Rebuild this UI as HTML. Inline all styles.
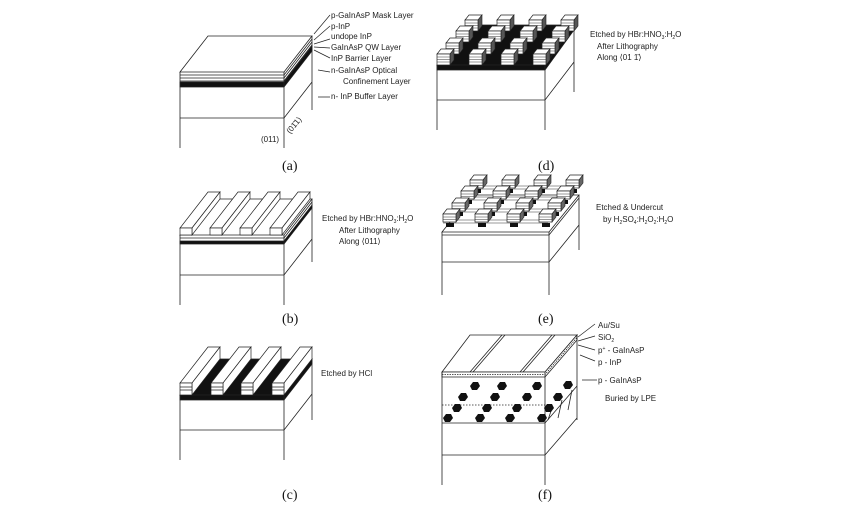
<!DOCTYPE html>
<html><head><meta charset="utf-8"><style>
html,body{margin:0;padding:0;background:#fff}
svg{display:block}
text{font-family:"Liberation Sans",sans-serif;font-size:8px;fill:#222}
.cap{font-family:"Liberation Serif",serif;font-size:14px;fill:#111}
</style></head><body>
<svg width="862" height="507" viewBox="0 0 862 507" xmlns="http://www.w3.org/2000/svg">
<defs>
<g id="cube">
 <polygon points="0,0 13,0 17,-5 4,-5" fill="#fff" stroke="#222" stroke-width="0.7"/>
 <polygon points="13,0 17,-5 17,6 13,11" fill="#555" stroke="#222" stroke-width="0.6"/>
 <rect x="0" y="0" width="13" height="11" fill="#fff" stroke="#222" stroke-width="0.7"/>
 <path d="M0 3H13M0 5.5H13M0 8H13" stroke="#333" stroke-width="0.6"/>
</g>
<g id="cubeE">
 <rect x="3" y="9" width="8" height="4" fill="#111"/>
 <polygon points="0,0 13,0 17,-5 4,-5" fill="#fff" stroke="#222" stroke-width="0.7"/>
 <polygon points="13,0 17,-5 17,3 13,8" fill="#666" stroke="#222" stroke-width="0.6"/>
 <rect x="0" y="0" width="13" height="8" fill="#fff" stroke="#222" stroke-width="0.7"/>
 <path d="M0 3H13M0 5.5H13" stroke="#333" stroke-width="0.6"/>
</g>
<polygon id="hex" points="-5,0 -2,-4 3,-4 5,0 2,4 -3,4" fill="#111"/>
</defs>
<g stroke="#222" stroke-width="0.8" fill="none">
<!-- (a) -->
<polygon points="180,72 284,72 312,36 208,36" fill="#fff"/>
<path d="M180,75H284L312,39M180,78H284L312,42M180,81H284L312,45"/>
<polygon points="180,82 284,82 312,46 312,51 284,87 180,87" fill="#111"/>
<path d="M180,72V148M284,72V148M312,36V110M180,118H284L312,82"/>
<!-- (b) -->
<polygon points="180,235 284,235 312,199 208,199" fill="#fff"/>
<path d="M180,238H284L312,202"/>
<polygon points="180,241 284,241 312,205 312,208 284,244 180,244" fill="#111"/>
<path d="M180,235V305M284,235V305M312,199V262M180,275H284L312,239"/>
<!-- (c) -->
<polygon points="180,395 284,395 312,359 208,359" fill="#111"/>
<polygon points="180,395 284,395 312,359 312,364 284,400 180,400" fill="#111"/>
<path d="M180,395V460M284,395V460M312,359V420M180,430H284L312,394"/>
<!-- (d) -->
<polygon points="437,65 545,65 574,25 466,25" fill="#111"/>
<polygon points="437,65 545,65 574,25 574,30 545,70 437,70" fill="#111"/>
<path d="M437,65V130M545,65V130M574,25V92M437,100H545L574,62"/>
<!-- (e) -->
<polygon points="442,232 549,232 579,195 472,195" fill="#fff"/>
<path d="M442,235H549L579,198"/>
<path d="M442,232V295M549,232V295M579,195V250M442,262H549L579,225"/>
<!-- (f) -->
<polygon points="442,372 545,372 577,335 470,335" fill="#fff"/>
<path d="M470,372L502,335M473,372L505,335M520,372L552,335M523,372L555,335"/>
<polygon points="442,372 545,372 577,335 577,340 545,377 442,377" fill="#fff"/>
<path d="M442,374.5H545L577,337.5" stroke-dasharray="1.5,1"/>
<path d="M442,372V485M545,372V485M577,335V420M442,423H545L577,386M442,455H545M545,455L577,418"/>
<path d="M442,405H545" stroke-dasharray="1.5,1.5"/>
<path d="M548,420L552,408M558,418L562,400M568,410L572,390" />
</g>
<!-- (b) stripes -->
<g stroke="#222" stroke-width="0.7" fill="#fff">
<g id="sb"><polygon points="180,228 192,228 220,192 208,192"/><polygon points="192,228 220,192 220,199 192,235"/><rect x="180" y="228" width="12" height="7"/></g>
<use href="#sb" x="30"/><use href="#sb" x="60"/><use href="#sb" x="90"/>
<g id="sc"><polygon points="180,383 192,383 220,347 208,347"/><polygon points="192,383 220,347 220,359 192,395"/><rect x="180" y="383" width="12" height="12"/><path d="M180,387H192M180,390H192" fill="none"/></g>
<use href="#sc" x="31"/><use href="#sc" x="61"/><use href="#sc" x="92"/>
</g>
<!-- (d) cubes -->
<use href="#cube" x="465" y="20"/><use href="#cube" x="497" y="20"/><use href="#cube" x="529" y="20"/><use href="#cube" x="561" y="20"/>
<use href="#cube" x="456" y="31"/><use href="#cube" x="488" y="31"/><use href="#cube" x="520" y="31"/><use href="#cube" x="552" y="31"/>
<use href="#cube" x="446" y="43"/><use href="#cube" x="478" y="43"/><use href="#cube" x="510" y="43"/><use href="#cube" x="542" y="43"/>
<use href="#cube" x="437" y="54"/><use href="#cube" x="469" y="54"/><use href="#cube" x="501" y="54"/><use href="#cube" x="533" y="54"/>
<!-- (e) grid + cubes -->
<g stroke="#333" stroke-width="0.6">
<path d="M470,186H575M470,189H575M461,197H566M461,200H566M452,209H557M452,212H557M443,220H548M443,223H548"/>
<path d="M476,185L449,222M479,185L452,222M508,185L481,222M511,185L484,222M540,185L513,222M543,185L516,222M572,185L545,222M575,185L548,222"/>
</g>
<use href="#cubeE" x="470" y="180"/><use href="#cubeE" x="502" y="180"/><use href="#cubeE" x="534" y="180"/><use href="#cubeE" x="566" y="180"/>
<use href="#cubeE" x="461" y="191"/><use href="#cubeE" x="493" y="191"/><use href="#cubeE" x="525" y="191"/><use href="#cubeE" x="557" y="191"/>
<use href="#cubeE" x="452" y="203"/><use href="#cubeE" x="484" y="203"/><use href="#cubeE" x="516" y="203"/><use href="#cubeE" x="548" y="203"/>
<use href="#cubeE" x="443" y="214"/><use href="#cubeE" x="475" y="214"/><use href="#cubeE" x="507" y="214"/><use href="#cubeE" x="539" y="214"/>
<!-- (f) dots -->
<use href="#hex" x="475" y="386"/><use href="#hex" x="502" y="386"/><use href="#hex" x="537" y="386"/>
<use href="#hex" x="463" y="397"/><use href="#hex" x="495" y="397"/><use href="#hex" x="527" y="397"/>
<use href="#hex" x="457" y="408"/><use href="#hex" x="487" y="408"/><use href="#hex" x="517" y="408"/>
<use href="#hex" x="448" y="418"/><use href="#hex" x="480" y="418"/><use href="#hex" x="510" y="418"/><use href="#hex" x="542" y="418"/>
<use href="#hex" x="568" y="385"/><use href="#hex" x="558" y="397"/><use href="#hex" x="549" y="408"/>
<!-- leaders -->
<g stroke="#222" stroke-width="0.7">
<path d="M314,34L330,15M314,40L330,26M314,44L330,39M314,47L330,48M314,50L330,58M318,70L330,72M318,97H330"/>
<path d="M578,337L595,324M578,341L595,336M578,345L595,350M580,355L595,361M582,380H597"/>
</g>
<text x="331" y="18">p-GaInAsP  Mask Layer</text>
<text x="331" y="29">p-InP</text>
<text x="331" y="39">undope InP</text>
<text x="331" y="50">GaInAsP  QW Layer</text>
<text x="331" y="61">InP  Barrier  Layer</text>
<text x="331" y="73">n-GaInAsP  Optical</text>
<text x="343" y="84">Confinement  Layer</text>
<text x="331" y="99">n- InP Buffer Layer</text>
<text x="261" y="142" font-size="7">(011)</text>
<text x="290" y="134" font-size="7" transform="rotate(-50 290 134)">(01̄1)</text>
<text x="322" y="221">Etched by  HBr:HNO<tspan font-size="5" dy="2">3</tspan><tspan dy="-2">:H</tspan><tspan font-size="5" dy="2">2</tspan><tspan dy="-2">O</tspan></text>
<text x="339" y="233">After  Lithography</text>
<text x="339" y="244">Along  ⟨011⟩</text>
<text x="321" y="376">Etched  by  HCl</text>
<text x="590" y="37">Etched by  HBr:HNO<tspan font-size="5" dy="2">3</tspan><tspan dy="-2">:H</tspan><tspan font-size="5" dy="2">2</tspan><tspan dy="-2">O</tspan></text>
<text x="597" y="49">After  Lithography</text>
<text x="597" y="60">Along  ⟨01 1̄⟩</text>
<text x="596" y="210">Etched &amp; Undercut</text>
<text x="603" y="222">by  H<tspan font-size="5" dy="2">2</tspan><tspan dy="-2">SO</tspan><tspan font-size="5" dy="2">4</tspan><tspan dy="-2">:H</tspan><tspan font-size="5" dy="2">2</tspan><tspan dy="-2">O</tspan><tspan font-size="5" dy="2">2</tspan><tspan dy="-2">:H</tspan><tspan font-size="5" dy="2">2</tspan><tspan dy="-2">O</tspan></text>
<text x="598" y="328">Au/Su</text>
<text x="598" y="340">SiO<tspan font-size="5" dy="2">2</tspan></text>
<text x="598" y="353">p<tspan font-size="5" dy="-3">+</tspan><tspan dy="3"> - GaInAsP</tspan></text>
<text x="598" y="365">p - InP</text>
<text x="598" y="383">p - GaInAsP</text>
<text x="605" y="401">Buried  by  LPE</text>
<text class="cap" x="282" y="170">(a)</text>
<text class="cap" x="282" y="323">(b)</text>
<text class="cap" x="282" y="499">(c)</text>
<text class="cap" x="538" y="170">(d)</text>
<text class="cap" x="538" y="323">(e)</text>
<text class="cap" x="538" y="499">(f)</text>
</svg>
</body></html>
